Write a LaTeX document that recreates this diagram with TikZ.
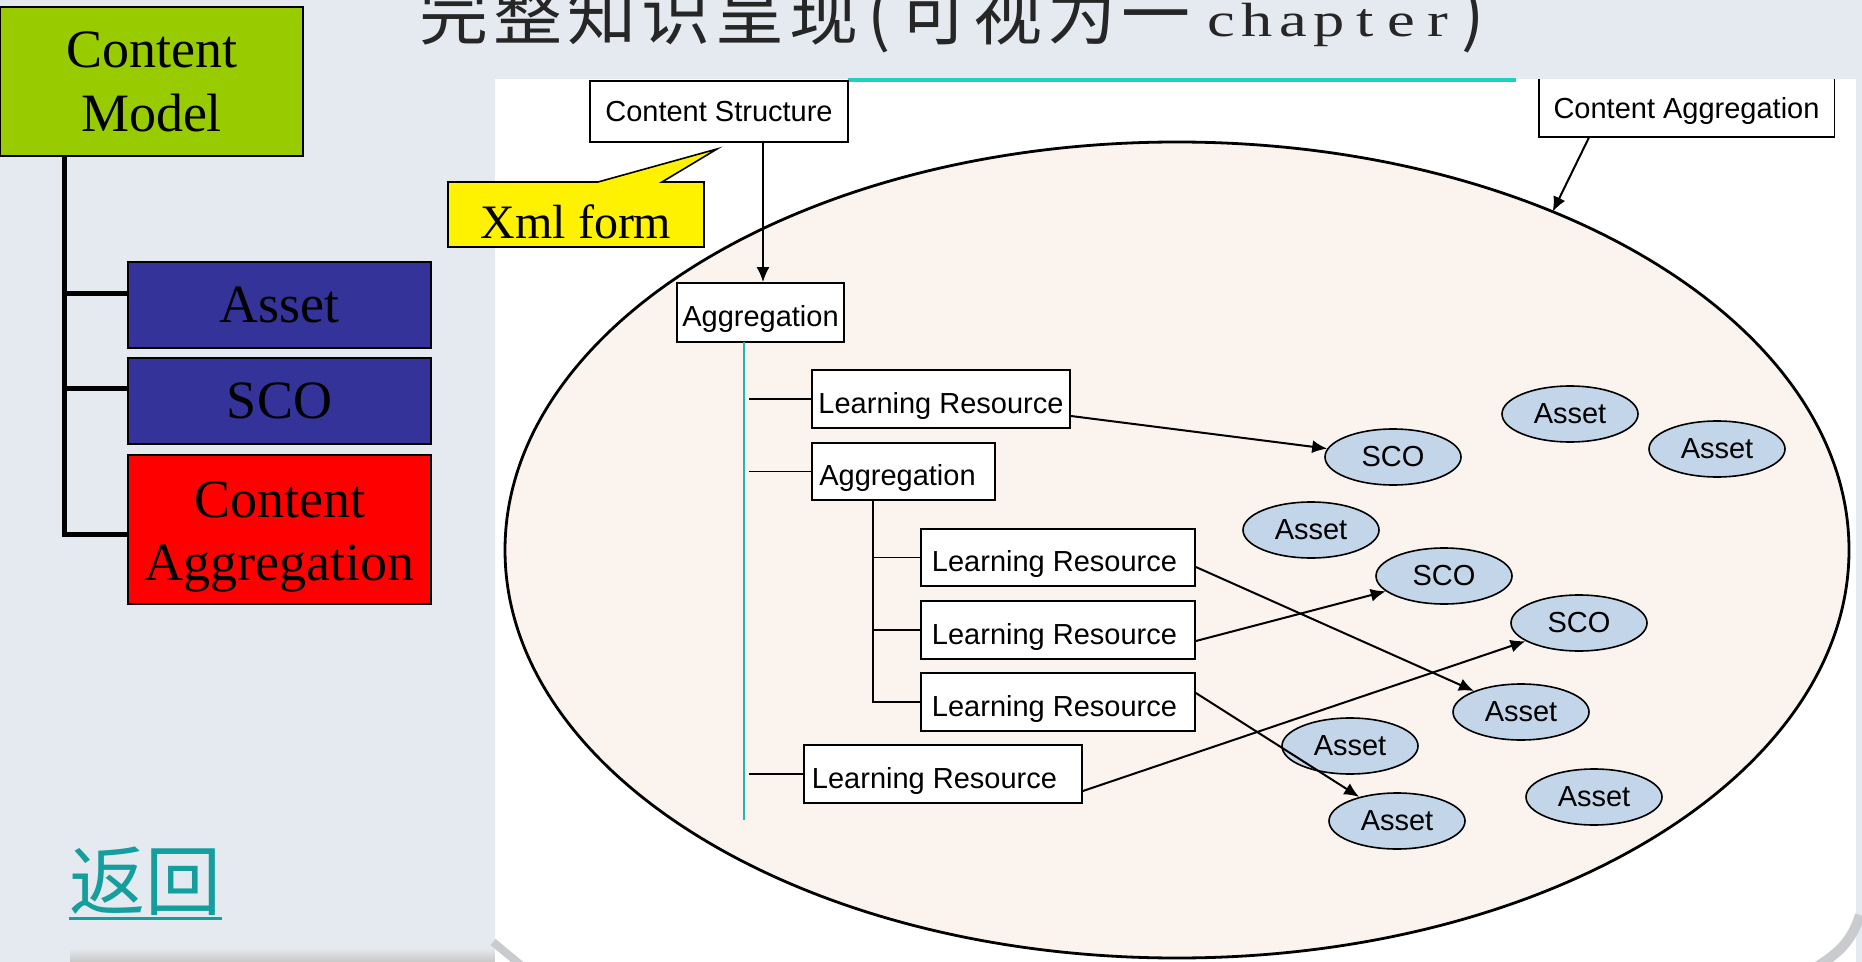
\documentclass[tikz,border=0pt]{standalone}
\usepackage{fontspec}
\setmainfont{Liberation Serif}
\newfontfamily\arialf{Liberation Sans}
\newfontfamily\cjkf{Noto Sans CJK SC}
\newfontfamily\titlelat[FakeStretch=1.3]{Liberation Serif}
\usetikzlibrary{shapes.geometric,arrows.meta}
\definecolor{bgc}{HTML}{E5EAF0}
\definecolor{bigfill}{HTML}{FBF3EE}
\definecolor{resfill}{HTML}{C3D5E8}
\definecolor{tealtopc}{HTML}{1DD0C2}
\definecolor{tealvc}{HTML}{27B5AF}
\definecolor{linkc}{HTML}{159E9E}
\definecolor{greenc}{HTML}{99CC00}
\definecolor{bluec}{HTML}{333399}
\definecolor{titlec}{HTML}{262626}
\definecolor{shadowc}{HTML}{C9CBCE}
\newcommand\tcj[1]{\makebox[37pt][c]{\cjkf #1}}
\newcommand\tlt[1]{\makebox[18pt][c]{\raisebox{1.5pt}{\fontsize{24pt}{28pt}\selectfont\titlelat #1}}}
\newcommand\tpr[1]{\makebox[18pt][c]{\cjkf #1}}
\tikzset{
  lbox/.style={draw=black, line width=1.2pt, inner sep=0pt, minimum width=151.5pt, align=center,
    font=\fontsize{27pt}{32pt}\selectfont},
  rbox/.style={draw=black, fill=white, line width=0.9pt, inner sep=0pt,
    font=\arialf\fontsize{14.5pt}{17pt}\selectfont, text height=14.4pt, text depth=0pt},
  res/.style={ellipse, draw=black, fill=resfill, line width=0.8pt, minimum width=68pt,
    minimum height=28pt, inner sep=0pt, font=\arialf\fontsize{14.5pt}{17pt}\selectfont},
  arr/.style={line width=1pt, -{Latex[length=7.5pt,width=6.5pt]}},
  tree/.style={line width=2.5pt},
  sub/.style={line width=0.9pt},
}
\begin{document}
\begin{tikzpicture}[x=0.5pt, y=-0.5pt]
\useasboundingbox (0,0) rectangle (1862,962);
\clip (0,0) rectangle (1862,962);
% background and panel
\fill[bgc] (0,0) rectangle (1862,962);
\shade[top color=bgc, bottom color=black!22] (70,948) rectangle (495,962);
\fill[white] (495,79) rectangle (1856,962);
\draw[shadowc, line width=5pt] (1860,915) .. controls (1852,940) and (1840,952) .. (1818,966);
\draw[shadowc, line width=4pt] (493,942) -- (522,966);
\draw[tealtopc, line width=2pt] (848,80) -- (1516,80);
% title
\node[anchor=base west, inner sep=0pt, text=titlec, font=\fontsize{34.5pt}{40pt}\selectfont] (title) at (417,40)
  {\tcj{完}\tcj{整}\tcj{知}\tcj{识}\tcj{呈}\tcj{现}\tpr{(}\tcj{可}\tcj{视}\tcj{为}\tcj{一}\hspace{5pt}\tlt{c}\tlt{h}\tlt{a}\tlt{p}\tlt{t}\tlt{e}\tlt{r}\tpr{)}};
% left tree
\coordinate (trunk) at (64,156);
\node[lbox, fill=greenc, minimum height=74.5pt] (cm) at (151.5,81.5) {Content\\Model};
\node[lbox, fill=bluec, minimum height=43pt] (asset) at (279.5,305) {Asset};
\node[lbox, fill=bluec, minimum height=43pt] (sco) at (279.5,401) {SCO};
\node[lbox, fill=red, minimum height=74.5pt] (ca) at (279.5,529.5) {};
\node[align=center, inner sep=0pt, font=\fontsize{27pt}{31.5pt}\selectfont, yshift=-3.5pt] (catext) at (ca) {Content\\Aggregation};
\draw[tree] (trunk) |- ([yshift=5.5pt]asset.west);
\draw[tree] (trunk) |- ([yshift=6pt]sco.west);
\draw[tree] (trunk) |- ([yshift=-2.25pt]ca.west);
% back link
\node[anchor=base west, inner sep=0pt, text=linkc, font=\cjkf\fontsize{38pt}{40pt}\selectfont] (back) at (69,909) {返回};
\draw[linkc, line width=1.5pt] ([yshift=-4.5pt]back.base west) -- ([yshift=-4.5pt]back.base east);
% big ellipse
\node[ellipse, draw=black, fill=bigfill, line width=1.4pt, minimum width=672pt, minimum height=408pt,
  inner sep=0pt, outer sep=0pt] (bigell) at (1177,550) {};
% callout
\filldraw[fill=yellow, draw=black, line width=0.8pt] (448,182) -- (598,182) -- (717,149) -- (662,182)
  -- (704,182) -- (704,247) -- (448,247) -- cycle;
\node[anchor=base, inner sep=0pt, font=\fontsize{24pt}{28pt}\selectfont] (xml) at (576,239) {Xml form};
% structure boxes
\node[rbox, minimum width=129pt, minimum height=30.5pt, text height=10.4pt] (cs) at (719,111.5) {Content Structure};
\node[inner sep=0pt, minimum width=147.5pt, minimum height=29pt, text height=10.4pt, text depth=0pt,
  font=\arialf\fontsize{14.5pt}{17pt}\selectfont] (cagg) at (1686.5,108) {Content Aggregation};
\draw[line width=0.9pt] (cagg.north west) -- (cagg.south west) -- (cagg.south east) -- (cagg.north east);
\node[rbox, minimum width=83.5pt, minimum height=29.5pt] (agg1) at (760.5,312.5) {Aggregation};
\node[rbox, minimum width=129pt, minimum height=29pt] (lr1) at (941,399) {Learning Resource};
\node[rbox, minimum width=91.5pt, minimum height=28.5pt] (agg2) at (903.5,471.5) {Aggregation\hspace*{6pt}};
\node[rbox, minimum width=137pt, minimum height=28.5pt] (lr2) at (1058,557.5) {Learning Resource\hspace*{3.5pt}};
\node[rbox, minimum width=137pt, minimum height=29pt] (lr3) at (1058,630) {Learning Resource\hspace*{3.5pt}};
\node[rbox, minimum width=137pt, minimum height=29pt] (lr3b) at (1058,702) {Learning Resource\hspace*{3.5pt}};
\node[rbox, minimum width=139pt, minimum height=29pt] (lr4) at (943,774) {Learning Resource\hspace*{8.5pt}};
% structure lines
\draw[arr] ([xshift=22pt]cs.south) -- ([xshift=1.25pt]agg1.north);
\coordinate (tealtop) at (744,342);
\coordinate (tealbot) at (744,820);
\coordinate (tickx) at (749,0);
\draw[tealvc, line width=1.2pt] (tealtop) -- (tealbot);
\draw[sub] (lr1.west -| tickx) -- (lr1.west);
\draw[sub] (agg2.west -| tickx) -- (agg2.west);
\draw[sub] (lr4.west -| tickx) -- (lr4.west);
\draw[sub] ([xshift=-15.25pt]agg2.south) |- (lr2.west);
\draw[sub] ([xshift=-15.25pt]agg2.south) |- (lr3.west);
\draw[sub] ([xshift=-15.25pt]agg2.south) |- (lr3b.west);
% resources
\node[res] (sco1) at (1393,457) {SCO};
\node[res] (assetA) at (1570,414) {Asset};
\node[res] (assetB) at (1717,449) {Asset};
\node[res] (assetC) at (1311,530) {Asset};
\node[res] (sco2) at (1444,576) {SCO};
\node[res] (sco3) at (1579,623) {SCO};
\node[res] (assetD) at (1521,712) {Asset};
\node[res] (assetE) at (1350,746) {Asset};
\node[res] (assetF) at (1594,797) {Asset};
\node[res] (assetG) at (1397,821) {Asset};
% arrows
\draw[arr] ([yshift=-8.5pt]lr1.east) -- (sco1);
\draw[arr] ([yshift=-4.75pt]lr2.east) -- (assetD);
\draw[arr] ([yshift=-5.5pt]lr3.east) -- (sco2);
\draw[arr] ([yshift=4.5pt]lr3b.east) -- (assetG);
\draw[arr] ([yshift=-8.5pt]lr4.east) -- (sco3);
\draw[arr] ([xshift=-48.75pt]cagg.south) -- (bigell.42);
\end{tikzpicture}
\end{document}
